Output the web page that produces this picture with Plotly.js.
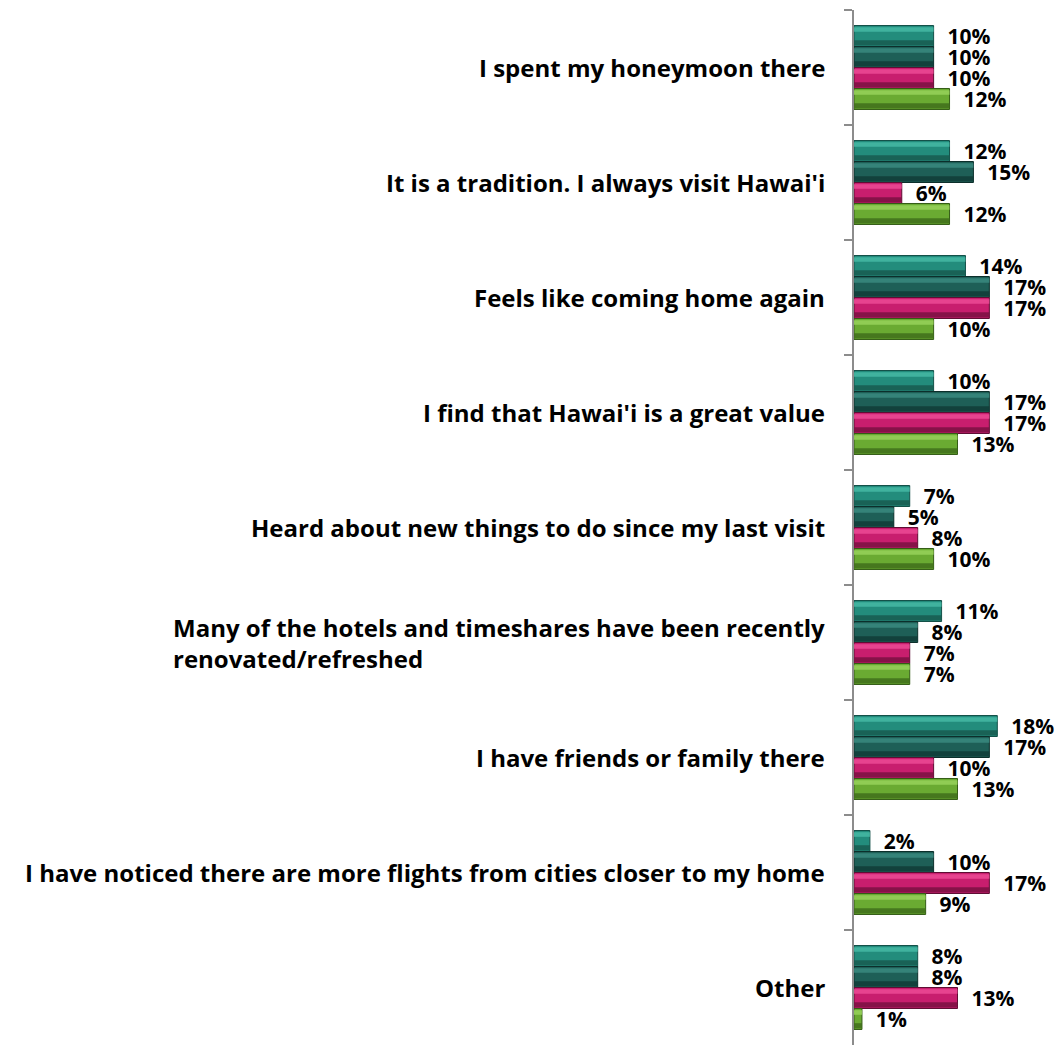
<!DOCTYPE html>
<html>
<head>
<meta charset="utf-8">
<script src="https://cdn.plot.ly/plotly-3.0.1.min.js"></script>
<style>html,body{margin:0;padding:0;background:#fff;}#chart{width:1061px;height:1045px;}</style>
</head>
<body>
<div id="chart"></div>
<script>
const categories = [
  "I spent my honeymoon there",
  "It is a tradition. I always visit Hawai'i",
  "Feels like coming home again",
  "I find that Hawai'i is a great value",
  "Heard about new things to do since my last visit",
  "Many of the hotels and timeshares have been recently<br>renovated/refreshed",
  "I have friends or family there",
  "I have noticed there are more flights from cities closer to my home",
  "Other"
];
const seriesNames = ["Series 1", "Series 2", "Series 3", "Series 4"];
const series1 = [10, 12, 14, 10, 7, 11, 18, 2, 8];
const series2 = [10, 15, 17, 17, 5, 8, 17, 10, 8];
const series3 = [10, 6, 17, 17, 8, 7, 10, 17, 13];
const series4 = [12, 12, 10, 13, 10, 7, 13, 9, 1];

const seriesValues = [series1, series2, series3, series4];
const fills = ["#238c7c", "#1e5f57", "#c81e6e", "#6aaa32"];
const lights = ["#45b8a5", "#3a8a7f", "#ec4a95", "#96d25a"];
const darks = ["#175a50", "#113c37", "#7a1142", "#3f6e1b"];
const edges = ["#135048", "#0c2f2b", "#5e0d33", "#345c16"];

const groupWidth = 0.73;
const w = groupWidth / seriesValues.length;
const LABEL_FONT = "'Open Sans', Lato, 'Liberation Sans', sans-serif";

const traces = [];
seriesValues.forEach((vals, i) => {
  const off = -groupWidth / 2 + i * w;
  traces.push({
    type: "bar", orientation: "h", name: seriesNames[i],
    y: categories, x: vals,
    width: w, offset: off,
    marker: { color: fills[i], line: { color: edges[i], width: 1 } },
    text: vals.map(v => "\u00a0\u00a0" + v + "%"),
    textposition: "outside",
    constraintext: "none",
    cliponaxis: false,
    textfont: { family: LABEL_FONT, size: 21, color: "#000", weight: "bold" },
    hoverinfo: "skip"
  });
});
seriesValues.forEach((vals, i) => {
  const off = -groupWidth / 2 + i * w;
  traces.push({
    type: "bar", orientation: "h", name: seriesNames[i] + " highlight",
    y: categories, x: vals,
    width: w * 0.22, offset: off + w * 0.08,
    marker: { color: lights[i], opacity: 0.85, line: { width: 0 } },
    hoverinfo: "skip", showlegend: false
  });
  traces.push({
    type: "bar", orientation: "h", name: seriesNames[i] + " shade",
    y: categories, x: vals,
    width: w * 0.25, offset: off + w * 0.7,
    marker: { color: darks[i], opacity: 0.85, line: { width: 0 } },
    hoverinfo: "skip", showlegend: false
  });
});

const annotations = categories.map(c => ({
  xref: "paper", yref: "y",
  x: 0, y: c,
  xanchor: "right", yanchor: "middle",
  xshift: -27,
  align: "left",
  showarrow: false,
  text: "<b>" + c + "</b>",
  font: { family: LABEL_FONT, size: 24, color: "#000" }
}));

const layout = {
  width: 1061, height: 1045,
  margin: { l: 854, r: 0, t: 10, b: 0 },
  paper_bgcolor: "#fff", plot_bgcolor: "#fff",
  showlegend: false,
  barmode: "overlay",
  xaxis: { range: [0, 26], visible: false, fixedrange: true },
  yaxis: {
    type: "category",
    autorange: "reversed",
    showticklabels: false,
    ticks: "outside",
    tickson: "boundaries",
    ticklen: 8,
    tickwidth: 2,
    tickcolor: "#8c8c8c",
    showline: true,
    linecolor: "#8c8c8c",
    linewidth: 2,
    showgrid: false,
    zeroline: false
  },
  annotations: annotations
};

Plotly.newPlot("chart", traces, layout, { displayModeBar: false, staticPlot: true });
</script>
</body>
</html>
